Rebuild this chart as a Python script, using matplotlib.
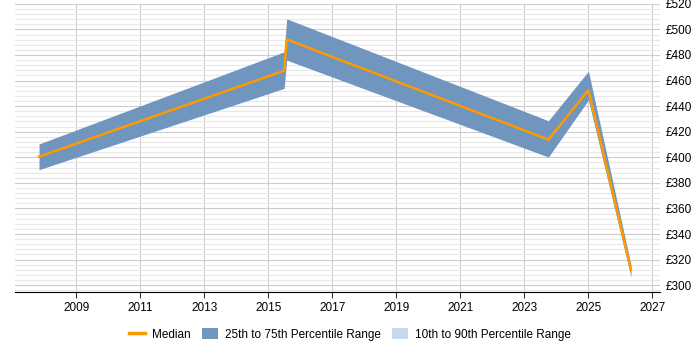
import matplotlib
matplotlib.use("Agg")
import matplotlib.pyplot as plt
from matplotlib.patches import Patch
from matplotlib.lines import Line2D
from matplotlib.ticker import MultipleLocator, FuncFormatter

plt.rcParams['font.family'] = ['Liberation Sans', 'DejaVu Sans']

# data
years = [2007.83, 2015.49, 2015.57, 2023.75, 2025.0, 2026.33]
median = [400.5, 467.7, 492.2, 413.8, 452.6, 312.0]
p25 = [390.3, 453.9, 476.0, 400.2, 444.8, 306.5]
p75 = [410.4, 482.5, 508.3, 428.6, 467.4, 316.0]
xticks = list(range(2009, 2028, 2))

band_col = "#7096bf"
light_col = "#c6d9ec"
med_col = "#ff9900"

fig = plt.figure(figsize=(7, 3.5), dpi=100)
ax = fig.add_axes([0.021, 0.167, 0.922, 0.822])

ax.fill_between(years, p25, p75, color=band_col, linewidth=0)
ax.plot(years, median, color=med_col, linewidth=1.8)

ax.set_xlim(2007.07, 2027.24)
ax.set_ylim(295, 520)
ax.set_xticks(xticks)
ax.yaxis.set_major_locator(MultipleLocator(20))
ax.yaxis.set_minor_locator(MultipleLocator(4))
ax.yaxis.set_major_formatter(FuncFormatter(lambda v, p: "£%d" % v))
ax.yaxis.tick_right()
ax.tick_params(axis='y', which='both', length=0, labelsize=8.5, pad=4)
ax.tick_params(axis='x', length=4, labelsize=8.5, color="#333333")

ax.grid(which='major', axis='both', color="#cccccc", linewidth=0.8)
ax.grid(which='minor', axis='y', color="#e8e8e8", linewidth=0.8)
ax.set_axisbelow(True)
for s in ['top', 'left', 'right']:
    ax.spines[s].set_visible(False)
ax.spines['bottom'].set_color("#000000")

handles = [Line2D([0], [0], color=med_col, linewidth=2.5),
           Patch(facecolor=band_col, edgecolor='none'),
           Patch(facecolor=light_col, edgecolor='none')]
labels = ["Median", "25th to 75th Percentile Range", "10th to 90th Percentile Range"]
fig.legend(handles, labels, loc='center', bbox_to_anchor=(0.5, 0.045), ncol=3,
           frameon=False, fontsize=8.5, handlelength=1.3, handleheight=1.1,
           columnspacing=1.0, handletextpad=0.6)

fig.savefig("out.png", dpi=100)
